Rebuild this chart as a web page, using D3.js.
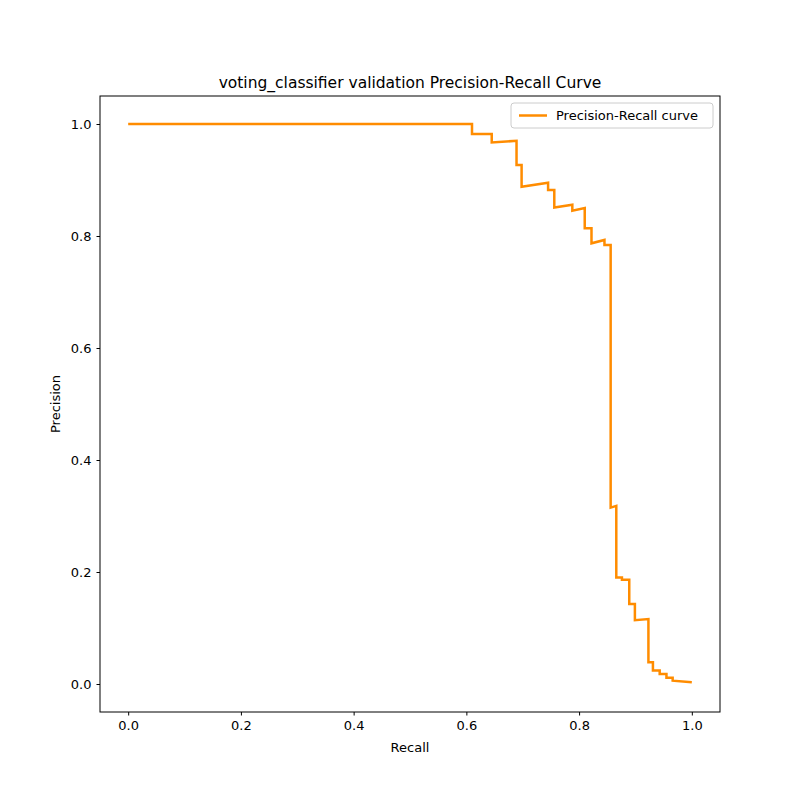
<!DOCTYPE html>
<html><head><meta charset="utf-8">
<script src="https://cdn.jsdelivr.net/npm/d3@7"></script>
<style>body{margin:0;background:#fff}text{font-family:"DejaVu Sans",sans-serif}</style>
</head><body>
<script>
// vertices of the step curve
const recall = [0, 0.61, 0.61, 0.645, 0.645, 0.689, 0.689, 0.698, 0.698, 0.745, 0.745, 0.756, 0.756, 0.788, 0.788,
  0.810, 0.810, 0.822, 0.822, 0.845, 0.845, 0.856, 0.856, 0.866, 0.866, 0.876, 0.876, 0.889, 0.889, 0.899, 0.899,
  0.923, 0.923, 0.931, 0.931, 0.943, 0.943, 0.955, 0.955, 0.966, 0.966, 1.0];
const precision = [1.0, 1.0, 0.982, 0.982, 0.967, 0.970, 0.927, 0.927, 0.888, 0.895, 0.882, 0.882, 0.851, 0.856, 0.845,
  0.850, 0.814, 0.814, 0.787, 0.793, 0.784, 0.784, 0.315, 0.318, 0.190, 0.190, 0.186, 0.186, 0.143, 0.143, 0.114,
  0.116, 0.039, 0.039, 0.024, 0.024, 0.018, 0.018, 0.011, 0.011, 0.006, 0.003];
const ticks = [0, 0.2, 0.4, 0.6, 0.8, 1.0];

const W = 800, H = 800, L = 100, R = 720, T = 96, B = 712;
const svg = d3.select("body").append("svg").attr("width", W).attr("height", H);
const x = d3.scaleLinear().domain([-0.05, 1.05]).range([L, R]);
const y = d3.scaleLinear().domain([-0.05, 1.05]).range([B, T]);

svg.append("g").attr("transform", `translate(0,${B})`)
  .call(d3.axisBottom(x).tickValues(ticks).tickFormat(d3.format(".1f")).tickSizeOuter(0).tickSize(3.5).tickPadding(5))
  .call(g => g.select(".domain").remove())
  .selectAll("text").attr("font-size", 13).attr("fill", "#000");
svg.append("g").attr("transform", `translate(${L},0)`)
  .call(d3.axisLeft(y).tickValues(ticks).tickFormat(d3.format(".1f")).tickSizeOuter(0).tickSize(3.5).tickPadding(5))
  .call(g => g.select(".domain").remove())
  .selectAll("text").attr("font-size", 13).attr("fill", "#000");

const pts = recall.map((r, i) => [r, precision[i]]);
svg.append("path").datum(pts)
  .attr("d", d3.line().x(d => x(d[0])).y(d => y(d[1])))
  .attr("fill", "none").attr("stroke", "darkorange").attr("stroke-width", 2.5);

svg.append("rect").attr("x", L).attr("y", T).attr("width", R - L).attr("height", B - T)
  .attr("fill", "none").attr("stroke", "#000").attr("stroke-width", 1);

svg.append("text").attr("x", (L + R) / 2).attr("y", T - 8).attr("text-anchor", "middle")
  .attr("font-size", 15.5).text("voting_classifier validation Precision-Recall Curve");
svg.append("text").attr("x", (L + R) / 2).attr("y", 752).attr("text-anchor", "middle")
  .attr("font-size", 13).text("Recall");
svg.append("text").attr("transform", `translate(60,${(T + B) / 2}) rotate(-90)`).attr("text-anchor", "middle")
  .attr("font-size", 13).text("Precision");

const lg = svg.append("g").attr("transform", "translate(511,103)");
lg.append("rect").attr("width", 202).attr("height", 25).attr("rx", 3)
  .attr("fill", "#fff").attr("fill-opacity", 0.8).attr("stroke", "#ccc");
lg.append("line").attr("x1", 8).attr("x2", 36).attr("y1", 12.5).attr("y2", 12.5)
  .attr("stroke", "darkorange").attr("stroke-width", 2.5);
lg.append("text").attr("x", 45).attr("y", 17).attr("font-size", 13).text("Precision-Recall curve");
</script>
</body></html>
